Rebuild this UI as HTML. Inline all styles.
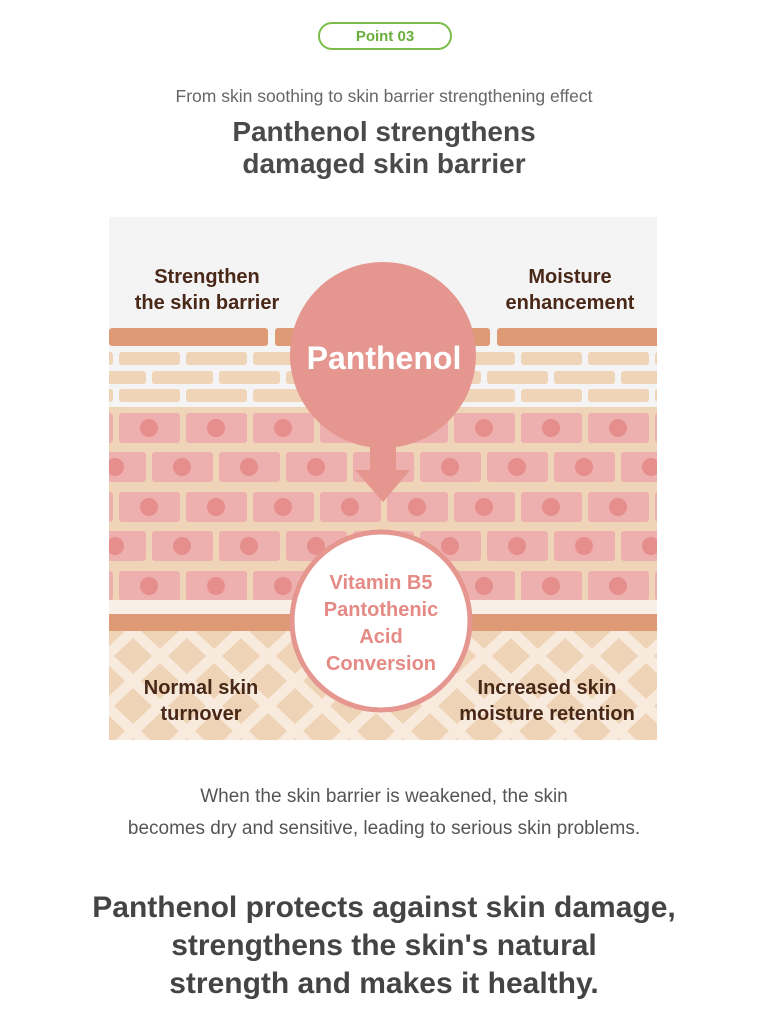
<!DOCTYPE html>
<html><head><meta charset="utf-8"><style>
html,body{margin:0;padding:0;background:#fff;width:768px;height:1024px;overflow:hidden}
body{position:relative;font-family:"Liberation Sans",sans-serif}
.t{position:absolute;left:0;width:768px;text-align:center;white-space:nowrap}
</style></head><body>
<div style="position:absolute;left:318px;top:22px;width:130px;height:24px;border:2px solid #7bbd4a;border-radius:14px;color:#6aad3c;font-weight:bold;font-size:15px;line-height:26px;text-align:center">Point 03</div>
<div class="t" style="top:86px;font-size:17.5px;color:#666">From skin soothing to skin barrier strengthening effect</div>
<div class="t" style="top:116px;font-size:28px;font-weight:bold;color:#4a4a4a;line-height:32px">Panthenol strengthens<br>damaged skin barrier</div>
<svg style="position:absolute;left:0;top:0" width="768" height="1024" xmlns="http://www.w3.org/2000/svg">
<defs>
<clipPath id="c"><rect x="109" y="217" width="548" height="523"/></clipPath>
<pattern id="lat" x="106" y="631" width="54" height="50" patternUnits="userSpaceOnUse">
<rect width="54" height="50" fill="#f8ebde"/>
<g fill="#efd3b6">
<polygon points="27,7 46,25 27,43 8,25"/>
<polygon points="0,-18 19,0 0,18 -19,0"/>
<polygon points="54,-18 73,0 54,18 35,0"/>
<polygon points="0,32 19,50 0,68 -19,50"/>
<polygon points="54,32 73,50 54,68 35,50"/>
</g>
</pattern>
</defs>
<g clip-path="url(#c)">
<rect x="109" y="217" width="548" height="523" fill="#f4f4f4"/>
<rect x="109" y="328" width="159" height="18" rx="3" fill="#de9a74"/>
<rect x="275" y="328" width="215" height="18" rx="3" fill="#de9a74"/>
<rect x="497" y="328" width="170" height="18" rx="3" fill="#de9a74"/>
<g fill="#f0d4b8">
<rect x="52" y="352" width="61" height="13" rx="3"/><rect x="119" y="352" width="61" height="13" rx="3"/><rect x="186" y="352" width="61" height="13" rx="3"/><rect x="253" y="352" width="61" height="13" rx="3"/><rect x="320" y="352" width="61" height="13" rx="3"/><rect x="387" y="352" width="61" height="13" rx="3"/><rect x="454" y="352" width="61" height="13" rx="3"/><rect x="521" y="352" width="61" height="13" rx="3"/><rect x="588" y="352" width="61" height="13" rx="3"/><rect x="655" y="352" width="61" height="13" rx="3"/>
<rect x="85" y="371" width="61" height="13" rx="3"/><rect x="152" y="371" width="61" height="13" rx="3"/><rect x="219" y="371" width="61" height="13" rx="3"/><rect x="286" y="371" width="61" height="13" rx="3"/><rect x="353" y="371" width="61" height="13" rx="3"/><rect x="420" y="371" width="61" height="13" rx="3"/><rect x="487" y="371" width="61" height="13" rx="3"/><rect x="554" y="371" width="61" height="13" rx="3"/><rect x="621" y="371" width="61" height="13" rx="3"/>
<rect x="52" y="389" width="61" height="13" rx="3"/><rect x="119" y="389" width="61" height="13" rx="3"/><rect x="186" y="389" width="61" height="13" rx="3"/><rect x="253" y="389" width="61" height="13" rx="3"/><rect x="320" y="389" width="61" height="13" rx="3"/><rect x="387" y="389" width="61" height="13" rx="3"/><rect x="454" y="389" width="61" height="13" rx="3"/><rect x="521" y="389" width="61" height="13" rx="3"/><rect x="588" y="389" width="61" height="13" rx="3"/><rect x="655" y="389" width="61" height="13" rx="3"/>
</g>
<rect x="109" y="407" width="548" height="193" fill="#f0d4b8"/>
<g id="r1">
<g fill="#eeb0ae"><rect x="52" y="413" width="61" height="30" rx="3"/><rect x="119" y="413" width="61" height="30" rx="3"/><rect x="186" y="413" width="61" height="30" rx="3"/><rect x="253" y="413" width="61" height="30" rx="3"/><rect x="320" y="413" width="61" height="30" rx="3"/><rect x="387" y="413" width="61" height="30" rx="3"/><rect x="454" y="413" width="61" height="30" rx="3"/><rect x="521" y="413" width="61" height="30" rx="3"/><rect x="588" y="413" width="61" height="30" rx="3"/><rect x="655" y="413" width="61" height="30" rx="3"/></g>
<g fill="#e58e8c"><circle cx="82" cy="428" r="9"/><circle cx="149" cy="428" r="9"/><circle cx="216" cy="428" r="9"/><circle cx="283" cy="428" r="9"/><circle cx="350" cy="428" r="9"/><circle cx="417" cy="428" r="9"/><circle cx="484" cy="428" r="9"/><circle cx="551" cy="428" r="9"/><circle cx="618" cy="428" r="9"/><circle cx="685" cy="428" r="9"/></g>
</g>
<use href="#r1" x="33" y="39"/>
<use href="#r1" x="0" y="79"/>
<use href="#r1" x="33" y="118"/>
<use href="#r1" x="0" y="158"/>
<rect x="109" y="600" width="548" height="14" fill="#f8efe6"/>
<rect x="109" y="614" width="548" height="17" fill="#de9a74"/>
<rect x="109" y="631" width="548" height="109" fill="url(#lat)"/>
</g>
<circle cx="383" cy="355" r="93" fill="#e4968f"/>
<rect x="370" y="440" width="26" height="32" fill="#e4968f"/>
<polygon points="355,470 410,470 383,502" fill="#e4968f"/>
<circle cx="381" cy="621" r="89" fill="#fff" stroke="#e4968f" stroke-width="5"/>
<g font-family="Liberation Sans, sans-serif" font-weight="bold" text-anchor="middle">
<text x="384" y="369" font-size="32" fill="#fff">Panthenol</text>
<g font-size="20" fill="#e58a84"><text x="381" y="589">Vitamin B5</text><text x="381" y="616">Pantothenic</text><text x="381" y="643">Acid</text><text x="381" y="670">Conversion</text></g>
<g font-size="20" fill="#4a2818"><text x="207" y="283">Strengthen</text><text x="207" y="309">the skin barrier</text><text x="570" y="283">Moisture</text><text x="570" y="309">enhancement</text>
<text x="201" y="694">Normal skin</text><text x="201" y="720">turnover</text><text x="547" y="694">Increased skin</text><text x="547" y="720">moisture retention</text></g>
</g>
</svg>
<div class="t" style="top:781px;font-size:19px;color:#555;line-height:32px">When the skin barrier is weakened, the skin<br>becomes dry and sensitive, leading to serious skin problems.</div>
<div class="t" style="top:889px;font-size:30px;font-weight:bold;color:#444;line-height:38px">Panthenol protects against skin damage,<br>strengthens the skin's natural<br>strength and makes it healthy.</div>
</body></html>
